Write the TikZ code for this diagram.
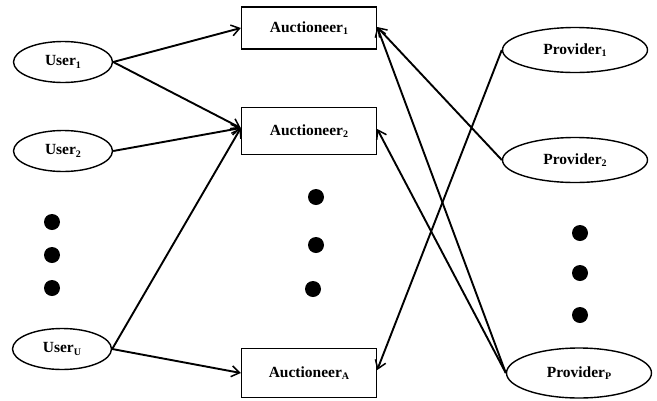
\documentclass[tikz,border=0pt]{standalone}
\usepackage{fontspec}
\setmainfont{Liberation Serif}
\usetikzlibrary{shapes.geometric,arrows.meta}
\newcommand{\subs}[1]{\raisebox{-0.35ex}{\fontsize{10}{10}\selectfont #1}}
\begin{document}
\begin{tikzpicture}[x=1pt,y=-1pt,
  lbl/.style={font=\fontsize{15.5}{17}\selectfont\bfseries},
  usr/.style={ellipse,draw,line width=1.4pt,inner sep=0pt,minimum width=99pt,minimum height=41pt,lbl},
  prov/.style={ellipse,draw,line width=1.4pt,inner sep=0pt,minimum width=145pt,minimum height=45pt,lbl},
  auc/.style={rectangle,draw,line width=1.4pt,inner sep=0pt,minimum width=135pt,lbl},
  dot/.style={circle,fill=black,inner sep=0pt,minimum size=16pt},
  conn/.style={line width=1.9pt,-{Straight Barb[length=8pt,width=11pt,line width=1.5pt]}}]
\useasboundingbox (0,0) rectangle (657,400);
\node[usr] (u1) at (63,62) {User\subs{1}};
\node[usr] (u2) at (63,151) {User\subs{2}};
\node[usr] (uu) at (62,349) {User\subs{U}};
\node[dot] (ld1) at (52,222) {};
\node[dot] (ld2) at (52,255) {};
\node[dot] (ld3) at (52,288) {};
\node[auc,minimum height=42pt] (a1) at (309,28) {Auctioneer\subs{1}};
\node[auc,minimum height=47pt] (a2) at (309,131) {Auctioneer\subs{2}};
\node[auc,minimum height=49pt] (aa) at (309,373) {Auctioneer\subs{A}};
\node[dot] (md1) at (316,197) {};
\node[dot] (md2) at (316,245) {};
\node[dot] (md3) at (313,289) {};
\node[prov] (p1) at (575,50) {Provider\subs{1}};
\node[prov] (p2) at (575,160) {Provider\subs{2}};
\node[prov,minimum height=50pt] (pp) at (579,373) {Provider\subs{P}};
\node[dot] (rd1) at (580,233) {};
\node[dot] (rd2) at (580,273) {};
\node[dot] (rd3) at (580,315) {};
\draw[conn] (u1.east) -- (a1.west);
\draw[conn] (u1.east) -- ([yshift=3pt]a2.west);
\draw[conn] (u2.east) -- ([yshift=3pt]a2.west);
\draw[conn] (uu.east) -- ([yshift=3pt]a2.west);
\draw[conn] (uu.east) -- (aa.west);
\draw[conn] (p2.west) -- ([yshift=1pt]a1.east);
\draw[conn] (pp.west) -- ([yshift=1pt]a1.east);
\draw[conn] (pp.west) -- ([yshift=2pt]a2.east);
\draw[conn] (p1.west) -- ([yshift=3pt]aa.east);
\end{tikzpicture}
\end{document}
